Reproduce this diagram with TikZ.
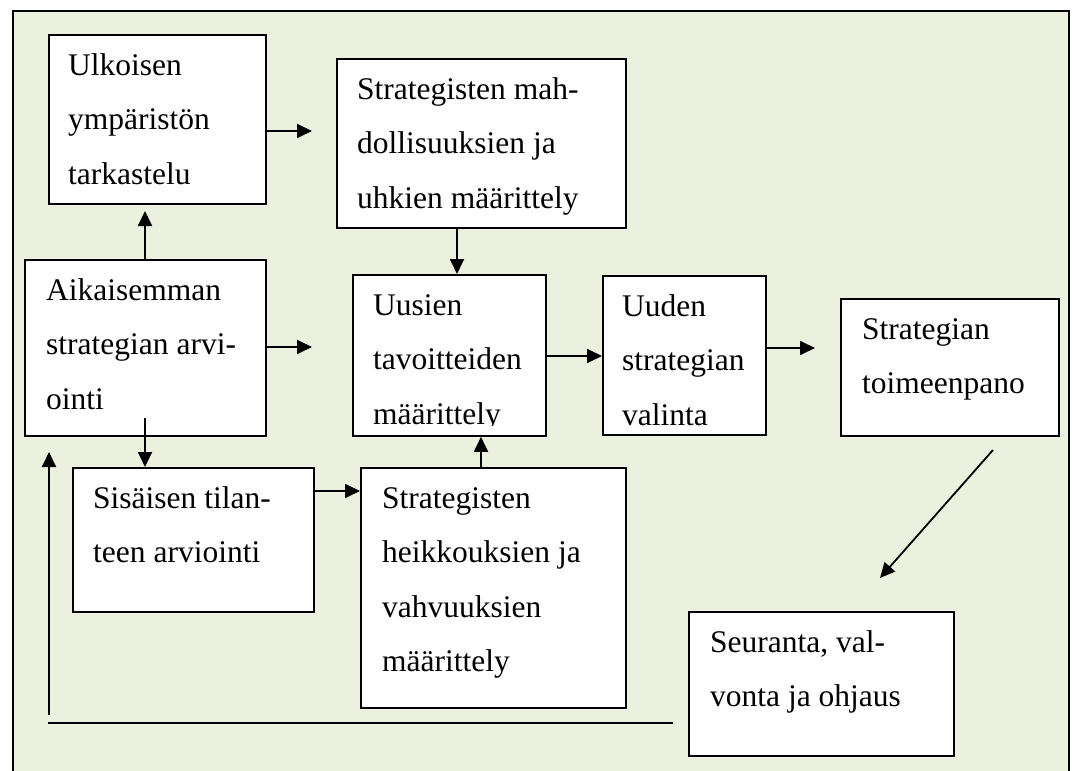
\documentclass[tikz,border=0pt]{standalone}
\usepackage{fontspec}
\setmainfont{Liberation Serif}
\usetikzlibrary{arrows.meta}
\definecolor{bg}{HTML}{EBF1DE}
\newcommand\lns[1]{\begin{tabular}[t]{@{}l@{}}#1\end{tabular}}
\newcommand\boxat[5]{\node[box,minimum width=#4pt,minimum height=#5pt] (#1) at (#2,#3) {};}
\begin{document}
\begin{tikzpicture}[x=1pt,y=-1pt,
  box/.style={draw, fill=white, line width=1.8pt, rectangle, inner sep=0pt, anchor=north west},
  txt/.style={anchor=base west, inner sep=0pt, font=\fontsize{31.5}{54.5}\selectfont},
  arr/.style={line width=1.8pt, -{Triangle[length=15pt,width=14pt]}},
  ln/.style={line width=1.8pt}]
\useasboundingbox (0,0) rectangle (1072,771);
\fill[white] (0,0) rectangle (1072,771);
\fill[bg] (13,11) rectangle (1069,771);
\draw[ln] (13,775) -- (13,11) -- (1069,11) -- (1069,775);

% boxes
\boxat{b1}{48}{34}{217}{169}
\boxat{b2}{336}{58}{289}{169}
\boxat{b3}{24}{259}{241}{176}
\boxat{b4}{352}{274}{193}{161}
\boxat{b5}{602}{275}{163}{159}
\boxat{b6}{840}{298}{218}{137}
\boxat{b7}{72}{467}{241}{144}
\boxat{b8}{360}{467}{265}{240}
\boxat{b9}{688}{611}{265}{144}

% texts
\node[txt] (t1) at (68,75) {\lns{Ulkoisen\\ympäristön\\tarkastelu}};
\node[txt] (t2) at (357,99) {\lns{Strategisten mah-\\dollisuuksien ja\\uhkien määrittely}};
\node[txt] (t3) at (46,300) {\lns{Aikaisemman\\strategian arvi-\\ointi}};
\begin{scope}
\clip (352,274) rectangle (545,425.5);
\node[txt] (t4) at (373,315) {\lns{Uusien\\tavoitteiden\\määrittely}};
\end{scope}
\node[txt] (t5) at (622,316) {\lns{Uuden\\strategian\\valinta}};
\node[txt] (t6) at (862,339) {\lns{Strategian\\toimeenpano}};
\node[txt] (t7) at (93,508) {\lns{Sisäisen tilan-\\teen arviointi}};
\node[txt] (t8) at (382,508) {\lns{Strategisten\\heikkouksien ja\\vahvuuksien\\määrittely}};
\node[txt] (t9) at (710,652) {\lns{Seuranta, val-\\vonta ja ohjaus}};

% coordinates for free ends
\coordinate (c1) at (312,131);
\coordinate (c2) at (145,211);
\coordinate (c3) at (312,347);
\coordinate (c4) at (457,0);
\coordinate (c5) at (0,356);
\coordinate (c6) at (815,348);
\coordinate (c7) at (145,418);
\coordinate (c8) at (0,491);
\coordinate (c9) at (481,0);
\coordinate (c10a) at (993,450);
\coordinate (c10b) at (880,578);
\coordinate (c11) at (673,723);
\coordinate (c12) at (48,723);
\coordinate (c13) at (49,715);
\coordinate (c14) at (49,452);

% connectors
\draw[arr] (b1.east |- c1) -- (c1);
\draw[arr] (b3.north -| c2) -- (c2);
\draw[arr] (b3.east |- c3) -- (c3);
\draw[arr] (b2.south -| c4) -- (b4.north -| c4);
\draw[arr] (b4.east |- c5) -- (b5.west |- c5);
\draw[arr] (b5.east |- c6) -- (c6);
\draw[arr] (c7) -- (b7.north -| c7);
\draw[arr] (b7.east |- c8) -- (b8.west |- c8);
\draw[arr] (b8.north -| c9) -- (b4.south -| c9);
\draw[arr] (c10a) -- (c10b);
\draw[ln] (c11) -- (c12);
\draw[arr] (c13) -- (c14);
\end{tikzpicture}
\end{document}
